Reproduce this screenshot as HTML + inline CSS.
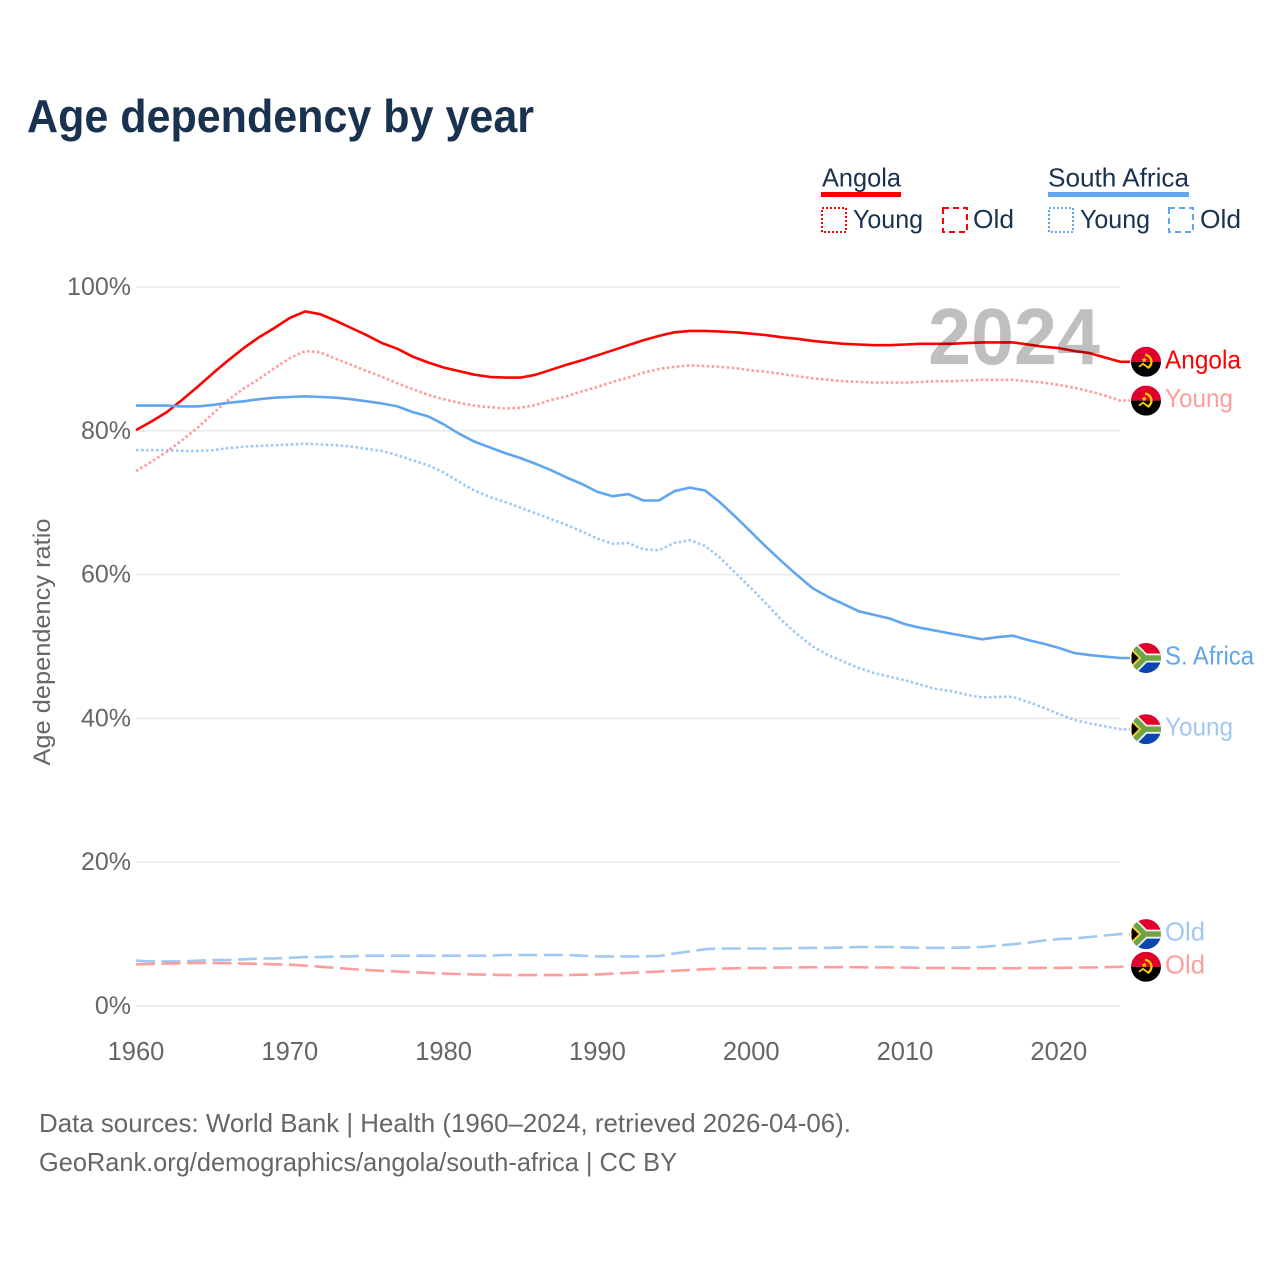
<!DOCTYPE html>
<html lang="en">
<head>
<meta charset="utf-8">
<title>Age dependency by year</title>
<style>
html,body{margin:0;padding:0;background:#fff;}
svg{display:block;font-family:"Liberation Sans",sans-serif;}
</style>
</head>
<body>
<svg id="chart" xmlns="http://www.w3.org/2000/svg" width="1280" height="1280" viewBox="0 0 1280 1280">
  <defs>
    <clipPath id="flag-clip"><circle cx="0" cy="0" r="15"/></clipPath>
  </defs>
  <rect x="0" y="0" width="1280" height="1280" fill="#ffffff"/>
  <text x="27" y="132" font-size="46" font-weight="700" fill="#18324f" textLength="507" lengthAdjust="spacingAndGlyphs">Age dependency by year</text>

  <g>
    <text x="822" y="186.5" font-size="26" fill="#18324f" textLength="79" lengthAdjust="spacingAndGlyphs">Angola</text>
    <rect x="821" y="192" width="80" height="5" fill="#ff0000"/>
    <rect x="822" y="208" width="24" height="24" fill="none" stroke="#ff0000" stroke-width="2" stroke-dasharray="2 2"/>
    <text x="853" y="228" font-size="26" fill="#18324f" textLength="70" lengthAdjust="spacingAndGlyphs">Young</text>
    <rect x="943" y="208" width="24" height="24" fill="none" stroke="#ff0000" stroke-width="2" stroke-dasharray="6 4"/>
    <text x="973" y="228" font-size="26" fill="#18324f" textLength="41" lengthAdjust="spacingAndGlyphs">Old</text>

    <text x="1048" y="186.5" font-size="26" fill="#18324f" textLength="141" lengthAdjust="spacingAndGlyphs">South Africa</text>
    <rect x="1048" y="192" width="141" height="5" fill="#60a5ee"/>
    <rect x="1049" y="208" width="24" height="24" fill="none" stroke="#60a5ee" stroke-width="2" stroke-dasharray="2 2"/>
    <text x="1080" y="228" font-size="26" fill="#18324f" textLength="70" lengthAdjust="spacingAndGlyphs">Young</text>
    <rect x="1169" y="208" width="24" height="24" fill="none" stroke="#60a5ee" stroke-width="2" stroke-dasharray="6 4"/>
    <text x="1200" y="228" font-size="26" fill="#18324f" textLength="41" lengthAdjust="spacingAndGlyphs">Old</text>
  </g>

  <g id="grid"></g>
  <g id="yticks"></g>
  <g id="xticks"></g>
  <text transform="translate(50,642) rotate(-90)" text-anchor="middle" font-size="24" fill="#666666" textLength="247" lengthAdjust="spacingAndGlyphs">Age dependency ratio</text>
  <g id="series"></g>
  <g id="markers"></g>
  <text x="928" y="364" font-size="80" font-weight="700" fill="#000000" fill-opacity="0.25" textLength="172" lengthAdjust="spacingAndGlyphs">2024</text>

  <text x="39" y="1132" font-size="26" fill="#666666" textLength="812" lengthAdjust="spacingAndGlyphs">Data sources: World Bank | Health (1960–2024, retrieved 2026-04-06).</text>
  <text x="39" y="1171" font-size="26" fill="#666666" textLength="638" lengthAdjust="spacingAndGlyphs">GeoRank.org/demographics/angola/south-africa | CC BY</text>
</svg>
<script>
const firstYear = 1960;
const xTickYears = [1960, 1970, 1980, 1990, 2000, 2010, 2020];
const yTickValues = [0, 20, 40, 60, 80, 100];

const angolaTotal = [80.1,81.3,82.6,84.3,86.1,88.0,89.8,91.5,93.0,94.3,95.7,96.6,96.2,95.3,94.3,93.3,92.2,91.4,90.3,89.5,88.8,88.3,87.8,87.5,87.4,87.4,87.8,88.5,89.2,89.8,90.5,91.2,91.9,92.6,93.2,93.7,93.9,93.9,93.8,93.7,93.5,93.3,93.0,92.8,92.5,92.3,92.1,92.0,91.9,91.9,92.0,92.1,92.1,92.1,92.2,92.3,92.3,92.3,92.0,91.7,91.5,91.1,90.8,90.2,89.6];
const angolaYoung = [74.4,75.7,77.1,78.7,80.4,82.4,84.3,85.9,87.2,88.7,90.1,91.1,90.9,90.0,89.2,88.3,87.5,86.6,85.8,85.0,84.4,83.9,83.5,83.3,83.1,83.2,83.6,84.3,84.8,85.5,86.1,86.8,87.4,88.1,88.6,88.9,89.1,89.0,88.9,88.7,88.4,88.2,87.9,87.6,87.3,87.1,86.9,86.8,86.7,86.7,86.7,86.8,86.9,86.9,87.0,87.1,87.1,87.1,86.9,86.7,86.4,86.0,85.5,84.9,84.2];
const angolaOld = [5.8,5.85,5.9,5.95,6.0,6.0,5.95,5.9,5.85,5.8,5.75,5.6,5.45,5.3,5.15,5.0,4.9,4.8,4.7,4.6,4.5,4.45,4.4,4.35,4.3,4.3,4.3,4.3,4.3,4.35,4.4,4.5,4.6,4.7,4.8,4.9,5.0,5.1,5.2,5.25,5.3,5.3,5.35,5.35,5.4,5.4,5.4,5.4,5.35,5.35,5.35,5.3,5.3,5.3,5.25,5.25,5.25,5.25,5.3,5.3,5.3,5.35,5.35,5.4,5.45];
const africaTotal = [83.5,83.5,83.5,83.4,83.4,83.6,83.9,84.1,84.4,84.6,84.7,84.8,84.7,84.6,84.4,84.1,83.8,83.4,82.6,82.0,80.9,79.6,78.5,77.7,76.9,76.2,75.4,74.5,73.5,72.6,71.5,70.9,71.2,70.3,70.3,71.6,72.1,71.7,70.0,68.0,65.9,63.8,61.8,59.9,58.1,56.9,55.9,54.9,54.4,53.9,53.1,52.6,52.2,51.8,51.4,51.0,51.3,51.5,50.9,50.4,49.8,49.1,48.8,48.6,48.4];
const africaYoung = [77.3,77.3,77.3,77.2,77.2,77.3,77.6,77.8,77.9,78.0,78.1,78.2,78.1,78.0,77.8,77.5,77.2,76.6,75.9,75.2,74.2,72.9,71.7,70.8,70.1,69.3,68.5,67.7,66.9,66.0,65.0,64.3,64.4,63.5,63.4,64.4,64.8,64.0,62.3,60.2,58.1,55.9,53.6,51.7,50.0,48.8,47.9,47.0,46.3,45.8,45.3,44.7,44.1,43.8,43.3,42.9,43.0,43.0,42.3,41.5,40.6,39.8,39.3,38.9,38.5];
const africaOld = [6.3,6.2,6.2,6.2,6.3,6.4,6.4,6.5,6.6,6.6,6.7,6.8,6.8,6.9,6.9,7.0,7.0,7.0,7.0,7.0,7.0,7.0,7.0,7.0,7.1,7.1,7.1,7.1,7.1,7.0,6.9,6.9,6.9,6.9,6.95,7.3,7.6,7.9,8.0,8.0,8.0,8.0,8.0,8.05,8.1,8.1,8.15,8.2,8.2,8.2,8.15,8.1,8.1,8.1,8.15,8.2,8.4,8.6,8.8,9.1,9.3,9.4,9.6,9.8,10.0];

const NS = 'http://www.w3.org/2000/svg';
const plotLeft = 136, plotRight = 1120, plotBottom = 1006, pxPerYear = 15.38, pxPerPercent = 7.19;
function xScale(year) { return plotLeft + (year - firstYear) * pxPerYear; }
function yScale(value) { return plotBottom - value * pxPerPercent; }
function make(tag, attrs, parent) {
  const el = document.createElementNS(NS, tag);
  for (const k in attrs) el.setAttribute(k, attrs[k]);
  parent.appendChild(el);
  return el;
}

const gridGroup = document.getElementById('grid');
const yTickGroup = document.getElementById('yticks');
const xTickGroup = document.getElementById('xticks');
const seriesGroup = document.getElementById('series');
const markerGroup = document.getElementById('markers');

yTickValues.forEach(function (v) {
  const line = make('line', {x1: plotLeft, x2: plotRight, y1: yScale(v), y2: yScale(v), stroke: '#e9e9e9', 'stroke-width': 1.5}, gridGroup);
  
  
  const label = make('text', {x: 131, y: yScale(v) + 8, 'text-anchor': 'end', 'font-size': 25, fill: '#666666'}, yTickGroup);
  label.textContent = v + '%';
  
  
});

xTickYears.forEach(function (yr) {
  const label = make('text', {x: xScale(yr), y: 1060, 'text-anchor': 'middle', 'font-size': 25.5, fill: '#666666'}, xTickGroup);
  label.textContent = yr;
  
  
});

function drawAngolaFlag(g) {
  const inner = make('g', {'clip-path': 'url(#flag-clip)'}, g);
  make('rect', {x: -15, y: -15, width: 30, height: 15, fill: '#e0002b'}, inner);
  make('rect', {x: -15, y: 0, width: 30, height: 15, fill: '#000000'}, inner);
  make('path', {d: 'M-1,-7 A7,7 0 0 1 2,6', fill: 'none', stroke: '#ffcb00', 'stroke-width': 2.4}, inner);
  make('path', {d: 'M-7,5 L-3,2 L3,6.5', fill: 'none', stroke: '#ffcb00', 'stroke-width': 1.8}, inner);
  make('path', {d: 'M-5,-6 L-3.9,-3.8 L-1.5,-3.5 L-3.3,-1.8 L-2.8,0.6 L-5,-0.6 L-7.2,0.6 L-6.7,-1.8 L-8.5,-3.5 L-6.1,-3.8 Z', fill: '#ffcb00', transform: 'translate(2,0) scale(.75)'}, inner);
}
function drawAfricaFlag(g) {
  const inner = make('g', {'clip-path': 'url(#flag-clip)'}, g);
  make('rect', {x: -15, y: -15, width: 30, height: 15, fill: '#e0002b'}, inner);
  make('rect', {x: -15, y: 0, width: 30, height: 15, fill: '#0a45b0'}, inner);
  make('path', {d: 'M-15,-14 L-1,0 L15,0 M-15,14 L-1,0', fill: 'none', stroke: '#f2f2f2', 'stroke-width': 9}, inner);
  make('path', {d: 'M-15,-14 L-1,0 L15,0 M-15,14 L-1,0', fill: 'none', stroke: '#6da544', 'stroke-width': 5.4}, inner);
  make('path', {d: 'M-15,-8.5 L-6.3,0 L-15,8.5 Z', fill: '#000000', stroke: '#ffcb00', 'stroke-width': 1.5}, inner);
}

const connectorEndX = 1130;
const flagX = 1146;

function drawSeries(key, values, color, dash, labelText, labelColor, labelWidth, flag) {
  const pts = values.map(function (v, i) { return xScale(firstYear + i).toFixed(1) + ',' + yScale(v).toFixed(1); });
  const endY = yScale(values[values.length - 1]);
  const attrs = {d: 'M' + pts.join(' L') + ' L' + connectorEndX + ',' + endY.toFixed(1), fill: 'none', stroke: color, 'stroke-width': 2.6, 'stroke-linejoin': 'round'};
  if (dash) attrs['stroke-dasharray'] = dash;
  const path = make('path', attrs, seriesGroup);
  
  

  const g = make('g', {transform: 'translate(' + flagX + ',' + endY.toFixed(1) + ')'}, markerGroup);
  
  
  flag(g);

  const label = make('text', {x: 1165, y: (endY + 6.5).toFixed(1), 'font-size': 26, fill: labelColor, textLength: labelWidth, lengthAdjust: 'spacingAndGlyphs'}, markerGroup);
  label.textContent = labelText;
  
  
}

const dotted = '2.6 2.4';
const dashed = '19 6.5';
drawSeries('south-africa-old', africaOld, '#a0c8f3', dashed, 'Old', '#a0c8f3', 40, drawAfricaFlag);
drawSeries('angola-old', angolaOld, '#ff9c9c', dashed, 'Old', '#ff9c9c', 40, drawAngolaFlag);
drawSeries('south-africa-young', africaYoung, '#a0c8f3', dotted, 'Young', '#a0c8f3', 68, drawAfricaFlag);
drawSeries('angola-young', angolaYoung, '#ff9c9c', dotted, 'Young', '#ff9c9c', 68, drawAngolaFlag);
drawSeries('angola-total', angolaTotal, '#ff0000', null, 'Angola', '#ff0000', 76, drawAngolaFlag);
drawSeries('south-africa-total', africaTotal, '#60a5ee', null, 'S. Africa', '#60a5ee', 89, drawAfricaFlag);
</script>
</body>
</html>
